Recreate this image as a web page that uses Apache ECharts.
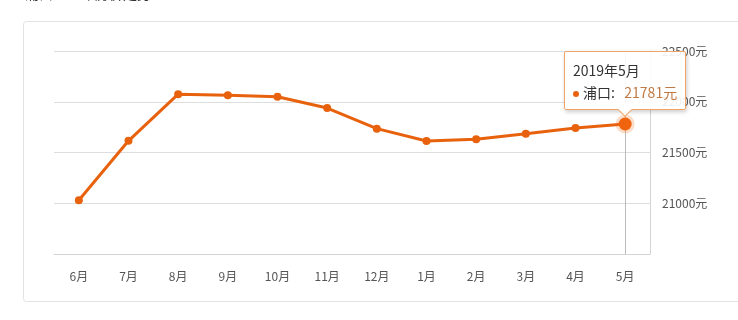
<!DOCTYPE html>
<html>
<head>
<meta charset="utf-8">
<script src="https://cdn.jsdelivr.net/npm/echarts@6/dist/echarts.min.js"></script>
<style>
html,body{margin:0;padding:0;background:#fff;}
#c{width:738px;height:320px;}
</style>
</head>
<body>
<div id="c"></div>
<script>
var months = ['6月','7月','8月','9月','10月','11月','12月','1月','2月','3月','4月','5月'];
var prices = [21030, 21615, 22075, 22065, 22050, 21938, 21735, 21613, 21630, 21685, 21742, 21781];
var yTicks = {min: 20500, max: 22500, step: 500};
var seriesName = '浦口';
var tipTitle = '2019年5月';
var titleText = '浦口近一年房价走势';

var FONT = '"Noto Sans CJK SC", "Microsoft YaHei", sans-serif';
var chart = echarts.init(document.getElementById('c'), null, {renderer: 'canvas'});
var lastIdx = prices.length - 1;
var seriesData = prices.map(function (v, i) {
  if (i === lastIdx) {
    return {value: v, symbolSize: 13, itemStyle: {color: '#f0640f', borderColor: 'rgba(240,100,15,0.22)', borderWidth: 6}};
  }
  return v;
});

chart.setOption({
  animation: false,
  textStyle: {fontFamily: FONT},
  graphic: [
    {type: 'rect', z: -10, silent: true, shape: {x: 23.5, y: 21.5, width: 740, height: 280, r: 3},
     style: {fill: 'none', stroke: '#e2e2e2', lineWidth: 1}},
    {type: 'text', left: 25, top: -13, silent: true,
     style: {text: titleText, fill: '#333', font: '14px ' + FONT}}
  ],
  grid: {left: 54, right: 88, top: 51, bottom: 66},
  tooltip: {
    trigger: 'item',
    triggerOn: 'none',
    alwaysShowContent: true,
    position: function (point, params, dom, rect, size) {
      var p = chart.convertToPixel({seriesIndex: 0}, [lastIdx, prices[lastIdx]]);
      return [p[0] - size.contentSize[0] / 2, p[1] - size.contentSize[1] - 14];
    },
    backgroundColor: 'rgba(255,255,255,0.9)',
    borderColor: '#f0a468',
    borderWidth: 1,
    padding: [7, 8, 6, 8],
    extraCssText: 'border:1px solid #f0a468 !important;box-shadow:1px 2px 4px rgba(0,0,0,0.2);border-radius:2px;overflow:visible;',
    textStyle: {color: '#333', fontSize: 14, fontFamily: FONT},
    formatter: function (p) {
      return '<div style="line-height:22px;">' + tipTitle + '</div>' +
        '<div style="line-height:22px;"><span style="display:inline-block;width:6px;height:6px;border-radius:3px;background:#e8620e;margin-right:4px;vertical-align:middle;"></span>' +
        p.seriesName + ':&nbsp;&nbsp;&nbsp;<span style="color:#c07a45;">' + p.value + '元</span></div>' +
        '<div style="position:absolute;left:50%;bottom:-6px;width:9px;height:9px;margin-left:-5px;background:#fff;border-right:1px solid #f0a468;border-bottom:1px solid #f0a468;transform:rotate(45deg);"></div>';
    }
  },
  xAxis: {
    type: 'category',
    data: months,
    boundaryGap: true,
    axisLine: {lineStyle: {color: '#d4d4d4', width: 1}},
    axisTick: {alignWithLabel: true, length: 4, lineStyle: {color: '#d4d4d4'}},
    axisLabel: {color: '#555', fontSize: 12, margin: 16},
    splitLine: {show: false}
  },
  yAxis: {
    type: 'value',
    position: 'right',
    min: yTicks.min,
    max: yTicks.max,
    interval: yTicks.step,
    axisLine: {show: true, lineStyle: {color: '#d4d4d4'}},
    axisTick: {show: false},
    axisLabel: {color: '#555', fontSize: 12, margin: 12, showMinLabel: false,
      formatter: function (v) { return v + '元'; }},
    splitLine: {lineStyle: {color: '#dedede'}}
  },
  series: [{
    name: seriesName,
    type: 'line',
    data: seriesData,
    symbol: 'circle',
    symbolSize: 8,
    showAllSymbol: true,
    lineStyle: {color: '#e8620e', width: 3},
    itemStyle: {color: '#e8620e'},
    z: 3,
    markLine: {
      silent: true,
      z: 1,
      symbol: 'none',
      label: {show: false},
      lineStyle: {color: '#bbbbbb', width: 1, type: 'solid'},
      data: [{xAxis: months[lastIdx]}]
    }
  }]
});
chart.dispatchAction({type: 'showTip', seriesIndex: 0, dataIndex: lastIdx});
</script>
</body>
</html>
